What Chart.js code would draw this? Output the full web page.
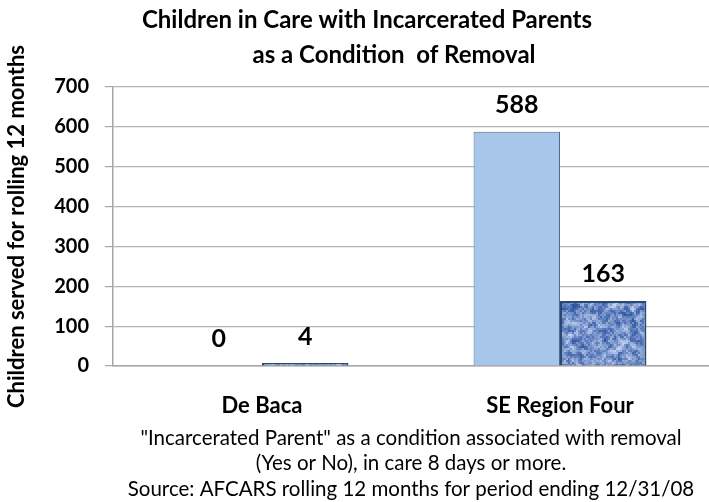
<!DOCTYPE html>
<html><head><meta charset="utf-8">
<script src="https://cdn.jsdelivr.net/npm/chart.js@4"></script>
<style>html,body{margin:0;padding:0;background:#fff}#wrap{width:709px;height:502px}</style>
</head><body><div id="wrap"><canvas id="c" width="709" height="502"></canvas></div>
<script>
const categories = ["De Baca", "SE Region Four"];
const seriesA = [0, 588];
const seriesB = [4, 163];
const yTicks = [0, 100, 200, 300, 400, 500, 600, 700];
const titleLines = ["Children in Care with Incarcerated Parents", "as a Condition  of Removal"];
const yTitle = "Children served for rolling 12 months";
const xTitleLines = ["\"Incarcerated Parent\" as a condition associated with removal", "(Yes or No), in care 8 days or more.", "Source: AFCARS rolling 12 months for period ending 12/31/08"];

const FONT = "Lato, 'Open Sans', sans-serif";

function makeTexture(){
  const s = 40, cell = 2, cv = document.createElement('canvas');
  cv.width = s * cell; cv.height = s * cell;
  const g = cv.getContext('2d');
  const h = (x, y) => { const v = Math.sin(x * 127.1 + y * 311.7) * 43758.5453; return v - Math.floor(v); };
  const sm = (x, y) => {
    let t = 0;
    for (let dx=-1; dx<=1; dx++) for (let dy=-1; dy<=1; dy++) t += h((x+dx+s)%s, (y+dy+s)%s);
    return t/9;
  };
  for (let y=0; y<s; y++) for (let x=0; x<s; x++) {
    const n = 0.5*h(x,y) + 0.5*(sm(x,y)-0.5)*2.2 + 0.22;
    const t = Math.min(1, Math.max(0, n));
    const r = Math.round(45 + t*155), gg = Math.round(85 + t*130), b = Math.round(160 + t*85);
    g.fillStyle = `rgb(${r},${gg},${b})`;
    g.fillRect(x*cell, y*cell, cell, cell);
  }
  return g.createPattern(cv, 'repeat');
}

const titlePlugin = {
  id: 'twoLineTitle',
  afterDraw(chart){
    const ctx = chart.ctx;
    ctx.save();
    ctx.font = "bold 24px " + FONT;
    ctx.fillStyle = "#000";
    ctx.textAlign = "center";
    ctx.textBaseline = "alphabetic";
    ctx.fillText(titleLines[0], 367, 28);
    ctx.fillText(titleLines[1], 394, 63);
    ctx.restore();
  }
};

const labelPlugin = {
  id: 'vals',
  afterDatasetsDraw(chart){
    const ctx = chart.ctx;
    ctx.save();
    ctx.font = "bold 25px " + FONT;
    ctx.fillStyle = "#000";
    ctx.textAlign = "center";
    ctx.textBaseline = "middle";
    chart.data.datasets.forEach((ds, di) => {
      const base = chart.scales.y.getPixelForValue(0);
      chart.getDatasetMeta(di).data.forEach((bar, i) => {
        const top = chart.scales.y.getPixelForValue(ds.data[i]);
        ctx.fillText(String(ds.data[i]), bar.x, Math.min(top, base) - 27);
      });
    });
    ctx.restore();
  }
};

new Chart(document.getElementById('c'), {
  type: 'bar',
  data: {
    labels: categories,
    datasets: [
      { data: seriesA, backgroundColor: '#a8c6ea', borderColor: '#4a6a96', borderWidth: 1, borderSkipped: 'bottom',
        categoryPercentage: 0.58, barPercentage: 1.0 },
      { data: seriesB, backgroundColor: makeTexture(), borderColor: '#2a4872', borderWidth: 2, borderSkipped: 'bottom',
        categoryPercentage: 0.58, barPercentage: 1.0, minBarLength: 3 }
    ]
  },
  options: {
    responsive: false,
    animation: false,
    devicePixelRatio: 1,
    layout: { padding: { top: 87, left: 0, right: 0, bottom: 0 } },
    plugins: {
      legend: { display: false },
      tooltip: { enabled: false },
      title: { display: false }
    },
    scales: {
      x: {
        grid: { display: false, drawTicks: false },
        border: { display: true, color: '#a6a6a6', width: 1.5 },
        ticks: { color: '#000', font: { family: FONT, size: 22, weight: 'bold' }, padding: 27 },
        title: {
          display: true, text: xTitleLines, color: '#000',
          font: { family: FONT, size: 20.5, lineHeight: 1.25 }, padding: { top: 4, bottom: 0 }
        },
        afterFit: s => { s.height = 136; }
      },
      y: {
        min: 0, max: 700,
        afterBuildTicks: s => { s.ticks = yTicks.map(v => ({ value: v })); },
        grid: { color: '#b4b4b4', lineWidth: 1.2, tickLength: 8, tickColor: '#a6a6a6' },
        border: { display: true, color: '#a6a6a6', width: 1.5 },
        ticks: { color: '#000', font: { family: FONT, size: 20, weight: 'bold' }, padding: 16 },
        title: {
          display: true, text: yTitle, color: '#000',
          font: { family: FONT, size: 22, weight: 'bold', lineHeight: 1.2 }, padding: { top: 4, bottom: 0 }
        },
        afterFit: s => { s.width = 113; }
      }
    }
  },
  plugins: [labelPlugin, titlePlugin]
});
</script></body></html>
